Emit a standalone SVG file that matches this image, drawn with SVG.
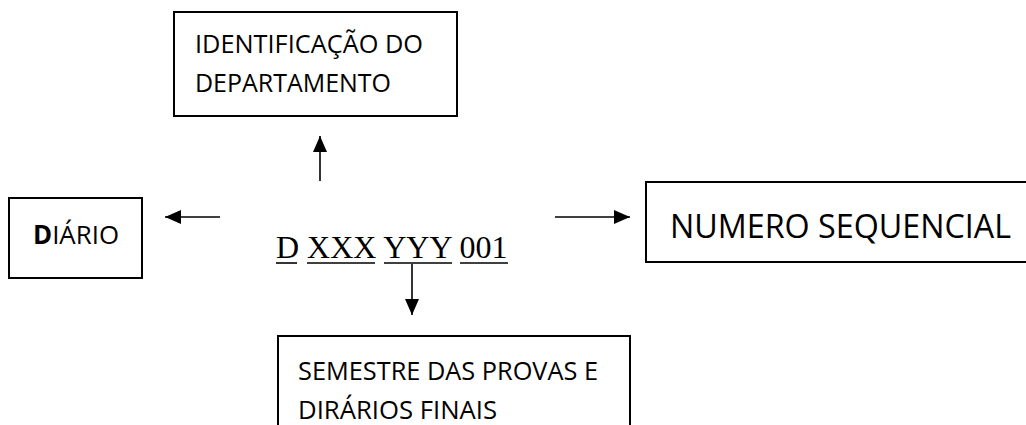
<svg xmlns="http://www.w3.org/2000/svg" width="1026" height="425" viewBox="0 0 1026 425">
<style>
.box{fill:#fff;stroke:#000;stroke-width:2}
.lbl{font-family:"Open Sans","Noto Sans","Liberation Sans",sans-serif;font-size:26px;fill:#000}
.big{font-size:33px}
.code{font-family:"Liberation Serif","Times New Roman",serif;font-size:32px;fill:#000}
.conn{stroke:#000;stroke-width:1.6;fill:none}
.ul{stroke:#000;stroke-width:1.6}
</style>
<defs>
<marker id="ahb" viewBox="0 0 16 14" refX="16" refY="7" markerWidth="16" markerHeight="14" markerUnits="userSpaceOnUse" orient="auto">
<path d="M0,0 L16,7 L0,14 z" fill="#000"/>
</marker>
</defs>
<rect width="1026" height="425" fill="#fff"/>
<g id="departamento">
<rect class="box" x="174" y="12" width="283" height="104"/>
<text class="lbl" x="195" y="53" textLength="228" lengthAdjust="spacingAndGlyphs">IDENTIFICAÇÃO DO</text>
<text class="lbl" x="195" y="92" textLength="196" lengthAdjust="spacingAndGlyphs">DEPARTAMENTO</text>
</g>
<g id="diario">
<rect class="box" x="9" y="198" width="133" height="80"/>
<text class="lbl" x="33" y="244" textLength="86" lengthAdjust="spacingAndGlyphs"><tspan font-weight="bold">D</tspan>IÁRIO</text>
</g>
<g id="codigo">
<text class="code" x="276" y="258">D XXX YYY 001</text>
<line class="ul" x1="276" y1="263" x2="297" y2="263"/>
<line class="ul" x1="307" y1="263" x2="375" y2="263"/>
<line class="ul" x1="384" y1="263" x2="452" y2="263"/>
<line class="ul" x1="460" y1="263" x2="508" y2="263"/>
</g>
<g id="sequencial">
<rect class="box" x="646" y="182" width="390" height="80"/>
<text class="lbl big" x="670" y="238" textLength="341" lengthAdjust="spacingAndGlyphs">NUMERO SEQUENCIAL</text>
</g>
<g id="semestre">
<path class="box" d="M278,430 L278,336 L630,336 L630,430"/>
<text class="lbl" x="298" y="380" textLength="300" lengthAdjust="spacingAndGlyphs">SEMESTRE DAS PROVAS E</text>
<text class="lbl" x="298" y="419" textLength="199" lengthAdjust="spacingAndGlyphs">DIRÁRIOS FINAIS</text>
</g>
<g id="connectors">
<line class="conn" x1="320" y1="181" x2="320" y2="136" marker-end="url(#ahb)"/>
<line class="conn" x1="220" y1="217" x2="165" y2="217" marker-end="url(#ahb)"/>
<line class="conn" x1="555" y1="217" x2="630" y2="217" marker-end="url(#ahb)"/>
<line class="conn" x1="412" y1="264" x2="412" y2="315" marker-end="url(#ahb)"/>
</g>
</svg>
